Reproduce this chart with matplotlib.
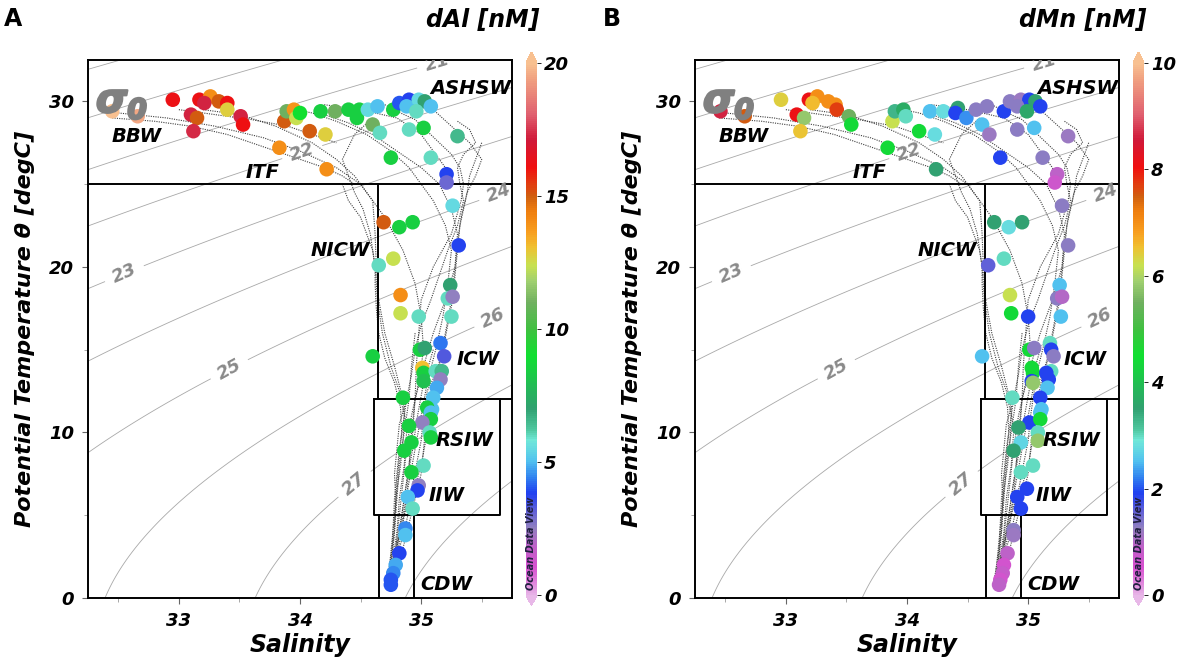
import numpy as np
import matplotlib
matplotlib.use('Agg')
import matplotlib.pyplot as plt
import matplotlib.patheffects as pe
from matplotlib.colors import LinearSegmentedColormap, Normalize

plt.rcParams['font.family'] = ['DejaVu Sans']
plt.rcParams['font.weight'] = 'bold'
plt.rcParams['font.style'] = 'italic'
plt.rcParams['axes.labelweight'] = 'bold'

# ---- bottle samples, panel A (dAl) ----
salA = [32.45, 32.66, 32.95, 33.10, 33.15, 33.12, 33.17, 33.26, 33.21, 33.33, 33.40, 33.40, 33.51, 33.53,
        33.87, 33.89, 33.95, 33.97, 34.00, 34.08, 34.21, 33.83, 34.22, 34.17, 34.29, 34.40, 34.49, 34.47,
        34.56, 34.64, 34.60, 34.66, 34.77, 34.82, 34.90, 34.88, 34.98, 35.03, 34.96, 35.08, 34.90, 35.02,
        35.30, 34.75, 35.08, 35.21, 35.21,
        35.26, 34.69, 34.82, 34.93, 35.31, 34.77, 34.65, 35.24, 35.22, 35.26, 34.83, 34.83, 34.98, 35.25,
        35.16, 35.19, 34.99, 35.03, 34.60, 35.01, 35.02, 35.12, 35.17, 35.02, 35.16, 35.13, 34.85, 35.10,
        35.09,
        35.05, 35.08, 35.08, 35.01, 34.90, 35.07, 35.08, 34.92, 34.86, 35.02, 34.92, 34.98, 34.97, 34.89,
        34.93, 34.87, 34.87, 34.82, 34.79, 34.77, 34.75, 34.75]
tempA = [29.4, 29.1, 30.1, 29.2, 29.0, 28.2, 30.1, 30.3, 29.9, 30.0, 29.9, 29.5, 29.1, 28.6,
         28.8, 29.4, 29.5, 29.0, 29.3, 28.2, 28.0, 27.2, 25.9, 29.4, 29.4, 29.5, 29.5, 29.0,
         29.5, 29.7, 28.6, 28.1, 29.5, 29.9, 30.1, 29.7, 30.1, 30.0, 29.4, 29.7, 28.3, 28.4,
         27.9, 26.6, 26.6, 25.6, 25.1,
         23.7, 22.7, 22.4, 22.7, 21.3, 20.5, 20.1, 18.9, 18.1, 18.2, 18.3, 17.2, 17.0, 17.0,
         15.4, 14.6, 15.0, 15.1, 14.6, 13.9, 13.6, 13.7, 13.7, 13.1, 13.2, 12.7, 12.1, 12.1,
         11.4,
         11.5, 11.2, 10.8, 10.6, 10.4, 10.0, 9.7, 9.4, 8.9, 8.0, 7.6, 6.8, 6.5, 6.1,
         5.4, 4.2, 3.8, 2.7, 2.0, 1.5, 1.1, 0.8]
dAl = [21.0, 19.5, 16.2, 17.2, 15.0, 17.3, 16.2, 14.0, 17.2, 15.0, 16.1, 12.8, 17.2, 16.1,
       15.0, 11.0, 13.9, 12.4, 9.0, 15.0, 12.8, 14.0, 14.0, 8.5, 11.0, 8.5, 8.5, 8.5,
       5.5, 5.0, 11.0, 6.0, 8.5, 4.0, 3.8, 5.0, 5.5, 7.0, 6.0, 5.0, 6.0, 8.5,
       6.5, 8.5, 6.0, 3.8, 3.0,
       5.5, 15.0, 8.5, 8.5, 3.8, 12.4, 6.0, 7.0, 6.0, 2.5, 14.0, 12.4, 6.0, 6.0,
       4.3, 3.3, 8.5, 7.0, 8.5, 13.1, 8.5, 6.0, 6.5, 8.0, 2.5, 4.8, 8.5, 5.0,
       5.0,
       8.5, 5.0, 8.5, 2.5, 8.5, 6.0, 8.5, 8.5, 8.5, 6.0, 8.5, 2.5, 3.8, 5.0,
       6.0, 4.5, 5.0, 3.8, 4.8, 4.5, 4.0, 4.0]

# ---- bottle samples, panel B (dMn) ----
salB = [32.46, 32.66, 32.96, 33.09, 33.15, 33.12, 33.19, 33.26, 33.22, 33.35, 33.41, 33.42, 33.52, 33.54,
        33.88, 33.90, 33.97, 33.99, 34.10, 34.23, 33.84, 34.24, 34.19, 34.30, 34.42, 34.40, 34.49, 34.57,
        34.66, 34.62, 34.68, 34.80, 34.85, 34.94, 35.01, 34.91, 35.06, 34.99, 35.10, 34.91, 35.05, 35.33,
        34.77, 35.12, 35.24, 35.22,
        35.28, 34.72, 34.84, 34.95, 35.33, 34.80, 34.67, 35.26, 35.24, 35.28, 34.85, 34.86, 35.00, 35.27,
        34.62, 35.18, 35.01, 35.05, 35.19, 35.21, 35.03, 35.04, 35.19, 35.15, 35.03, 35.04, 35.17, 35.16,
        34.87, 35.10, 35.11,
        35.10, 35.01, 35.10, 34.92, 35.08, 35.08, 34.94, 34.88, 35.04, 34.94, 34.99, 34.91, 34.94, 34.88,
        34.88, 34.83, 34.80, 34.79, 34.77, 34.76]
tempB = [29.4, 29.1, 30.1, 29.2, 29.0, 28.2, 30.1, 30.3, 29.9, 30.0, 29.8, 29.5, 29.1, 28.6,
         28.8, 29.4, 29.5, 29.1, 28.2, 28.0, 27.2, 25.9, 29.4, 29.4, 29.6, 29.3, 29.0, 29.5,
         29.7, 28.6, 28.0, 29.4, 30.0, 30.1, 30.1, 29.7, 30.0, 29.4, 29.7, 28.3, 28.4, 27.9,
         26.6, 26.6, 25.6, 25.1,
         23.7, 22.7, 22.4, 22.7, 21.3, 20.5, 20.1, 18.9, 18.1, 18.2, 18.3, 17.2, 17.0, 17.0,
         14.6, 15.4, 15.0, 15.1, 15.0, 14.6, 13.9, 13.6, 13.7, 13.6, 13.1, 13.0, 13.2, 12.7,
         12.1, 12.1, 11.4,
         11.2, 10.6, 10.8, 10.3, 10.0, 9.5, 9.4, 8.9, 8.0, 7.6, 6.6, 6.1, 5.4, 4.1,
         3.8, 2.7, 2.0, 1.5, 1.1, 0.8]
dMn = [8.6, 7.5, 6.4, 8.1, 5.8, 6.5, 8.1, 7.0, 6.6, 7.0, 7.0, 7.7, 5.5, 4.4,
       6.2, 3.3, 3.7, 3.0, 4.4, 2.8, 4.4, 3.5, 2.5, 2.8, 3.5, 1.9, 2.3, 1.3,
       1.3, 2.5, 1.2, 1.9, 1.3, 1.2, 1.9, 1.3, 3.5, 3.6, 1.9, 1.3, 2.5, 1.2,
       1.9, 1.3, 0.9, 0.7,
       1.3, 3.5, 2.8, 3.5, 1.3, 3.0, 1.6, 2.5, 1.3, 1.0, 6.2, 4.4, 1.9, 2.5,
       2.5, 3.0, 4.4, 1.3, 1.9, 1.3, 4.4, 4.4, 3.0, 1.9, 1.9, 5.8, 1.9, 2.5,
       3.0, 1.9, 2.5,
       2.5, 1.9, 4.4, 3.5, 3.0, 5.8, 2.7, 3.5, 3.0, 3.0, 1.9, 1.9, 1.9, 1.3,
       1.2, 0.9, 0.6, 0.8, 0.6, 0.9]

# ---- CTD casts (background T-S traces) ----
casts = [
    ([32.50, 32.90, 33.30, 33.70, 34.00, 34.30, 34.50, 34.60, 34.62, 34.63, 34.65, 34.70, 34.78, 34.85, 34.88, 34.86, 34.82, 34.80, 34.77, 34.74],
     [29.3, 29.0, 28.5, 27.8, 27.0, 26.0, 25.0, 24.0, 22.0, 20.0, 18.0, 16.0, 14.0, 12.0, 10.0, 8.0, 6.0, 4.0, 2.5, 1.5]),
    ([33.20, 33.50, 33.80, 34.10, 34.30, 34.45, 34.55, 34.70, 34.85, 34.95, 35.00, 35.02, 34.98, 34.92, 34.88, 34.85, 34.82, 34.79, 34.76, 34.73],
     [29.5, 29.2, 28.5, 27.5, 26.5, 25.5, 24.5, 23.0, 21.0, 19.0, 17.0, 15.0, 13.0, 11.0, 9.0, 7.0, 5.0, 3.0, 1.8, 1.2]),
    ([33.90, 34.10, 34.30, 34.55, 34.75, 34.90, 35.00, 35.10, 35.20, 35.25, 35.22, 35.18, 35.12, 35.05, 35.00, 34.95, 34.90, 34.85, 34.80, 34.76],
     [29.6, 29.3, 28.8, 28.0, 27.0, 26.0, 25.0, 24.0, 22.5, 21.0, 19.0, 17.0, 15.0, 13.0, 11.0, 9.0, 7.0, 5.0, 3.0, 2.0]),
    ([35.00, 35.10, 35.25, 35.40, 35.50, 35.45, 35.38, 35.33, 35.30, 35.28, 35.25, 35.20, 35.15, 35.10, 35.05, 35.00, 34.92, 34.86, 34.80, 34.75],
     [30.0, 29.5, 28.5, 27.5, 26.5, 25.5, 24.5, 23.0, 21.5, 20.0, 18.0, 16.0, 14.0, 12.0, 10.0, 8.0, 6.0, 4.0, 2.5, 1.5]),
    ([34.60, 34.45, 34.35, 34.40, 34.45, 34.52, 34.58, 34.62, 34.64, 34.68, 34.75, 34.82, 34.86, 34.85, 34.83, 34.80, 34.78, 34.76, 34.74, 34.72],
     [29.0, 28.0, 26.5, 25.5, 24.5, 23.5, 22.0, 20.0, 18.0, 16.0, 14.0, 12.5, 11.0, 9.5, 8.0, 6.5, 5.0, 3.5, 2.0, 1.0]),
    ([34.20, 34.40, 34.60, 34.80, 35.00, 35.15, 35.25, 35.30, 35.28, 35.20, 35.10, 35.02, 34.95, 34.92, 34.90, 34.86, 34.83, 34.80, 34.77, 34.74],
     [29.2, 28.7, 28.0, 27.0, 26.0, 25.0, 23.5, 22.0, 20.0, 18.0, 16.0, 14.0, 12.0, 10.0, 8.0, 6.0, 4.5, 3.0, 2.0, 1.2]),
    ([35.30, 35.40, 35.45, 35.35, 35.30, 35.32, 35.35, 35.30, 35.22, 35.15, 35.08, 35.00, 34.95, 34.92, 34.88, 34.85, 34.82, 34.80, 34.78, 34.77, 34.76, 34.74, 34.72],
     [28.8, 28.3, 27.5, 26.8, 26.0, 25.0, 24.0, 22.5, 21.0, 19.5, 18.0, 16.5, 15.0, 13.5, 12.0, 10.5, 9.0, 7.5, 6.0, 4.5, 3.0, 2.0, 1.0]),
    ([34.70, 34.80, 34.95, 35.05, 35.15, 35.25, 35.32, 35.35, 35.33, 35.25, 35.10, 35.00, 34.98, 34.96, 34.95, 34.93, 34.90, 34.88, 34.84, 34.78, 34.74],
     [29.8, 29.4, 28.9, 28.2, 27.5, 26.8, 26.0, 25.0, 24.0, 22.0, 20.0, 18.0, 16.0, 14.0, 12.0, 10.0, 8.0, 6.0, 4.0, 2.0, 0.8]),
    ([34.35, 34.40, 34.50, 34.55, 34.60, 34.62, 34.62, 34.63, 34.65, 34.70, 34.78, 34.83, 34.84, 34.82, 34.80, 34.79, 34.78, 34.76, 34.74],
     [25.0, 24.0, 23.0, 22.0, 21.0, 20.0, 19.0, 17.5, 16.0, 14.5, 13.0, 11.5, 10.0, 8.5, 7.0, 5.5, 4.0, 2.5, 1.5]),
    ([35.50, 35.45, 35.40, 35.38, 35.35, 35.32, 35.30, 35.28, 35.26, 35.22, 35.18, 35.12, 35.08, 35.04, 35.02, 35.00, 34.95, 34.90, 34.85, 34.78],
     [27.5, 26.5, 25.5, 24.5, 23.5, 22.5, 21.0, 19.5, 18.0, 16.5, 15.0, 13.5, 12.0, 10.5, 9.0, 7.5, 6.0, 4.5, 3.0, 1.5]),
    ([32.45, 32.80, 33.10, 33.40, 33.60, 33.80, 34.00, 34.20, 34.35, 34.45],
     [29.0, 28.8, 28.5, 28.0, 27.5, 27.0, 26.5, 26.0, 25.5, 25.0]),
    ([33.00, 33.30, 33.60, 33.90, 34.10, 34.30],
     [29.5, 29.2, 28.9, 28.5, 28.0, 27.5]),
    ([34.20, 34.50, 34.80, 35.00, 35.10, 35.20, 35.25],
     [29.8, 29.5, 29.0, 28.0, 27.0, 26.0, 25.0]),
    ([35.10, 35.02, 34.97, 34.93, 34.88, 34.84, 34.79, 34.75],
     [15.0, 13.0, 11.0, 9.0, 7.0, 5.0, 3.0, 1.5]),
    ([34.95, 34.92, 34.90, 34.86, 34.82, 34.80, 34.78, 34.75, 34.73],
     [16.0, 14.0, 12.0, 10.0, 8.0, 6.0, 4.0, 2.0, 1.0]),
    ([35.15, 35.05, 35.02, 35.00, 34.96, 34.92, 34.86, 34.81, 34.76],
     [14.0, 12.5, 11.0, 9.5, 8.0, 6.5, 5.0, 3.5, 2.0]),
    ([34.88, 34.82, 34.80, 34.78, 34.79, 34.78, 34.76, 34.74],
     [12.0, 10.5, 9.0, 7.5, 6.0, 4.5, 3.0, 1.5]),
]

# water-mass labels (salinity, temperature)
wm_names = ['BBW', 'ITF', 'ASHSW', 'NICW', 'ICW', 'RSIW', 'IIW', 'CDW']
wm_sal = [32.65, 33.69, 35.41, 34.33, 35.47, 35.36, 35.21, 35.21]
wm_temp = [27.9, 25.7, 30.8, 21.0, 14.4, 9.5, 6.2, 0.8]

sigma_plain_levels = [17, 18, 19, 20, 28]
sigma_lab_levels = [21, 22, 23, 24, 25, 26, 27]
sigma_lab_pos = [(35.15, 32.0), (34.02, 26.9), (32.55, 19.6), (35.64, 24.5), (33.41, 13.9), (35.61, 16.7), (34.46, 6.8)]

cmap = LinearSegmentedColormap.from_list('odv', [
    (0.000, '#e6b0e6'), (0.050, '#d850d0'), (0.088, '#c060c8'), (0.126, '#9080c0'),
    (0.157, '#6060d8'), (0.190, '#2040f0'), (0.220, '#3080f0'), (0.250, '#50c0f0'),
    (0.290, '#70e8d8'), (0.310, '#50c8a0'), (0.350, '#30a070'), (0.400, '#20c050'),
    (0.450, '#10e030'), (0.500, '#40c040'), (0.550, '#70b060'), (0.590, '#a0d070'),
    (0.620, '#c8e050'), (0.655, '#f0c030'), (0.680, '#f8a020'), (0.720, '#f08010'),
    (0.750, '#d06010'), (0.770, '#e04010'), (0.805, '#f01010'), (0.855, '#d01838'),
    (0.905, '#e06070'), (0.970, '#f0a080'), (1.000, '#f8c090')])
cmap.set_over('#f8c090')
cmap.set_under('#e8b8e8')


def sigma0(S, T):
    rw = (999.842594 + 6.793952e-2 * T - 9.095290e-3 * T**2 + 1.001685e-4 * T**3
          - 1.120083e-6 * T**4 + 6.536332e-9 * T**5)
    r = (rw + S * (0.824493 - 4.0899e-3 * T + 7.6438e-5 * T**2 - 8.2467e-7 * T**3 + 5.3875e-9 * T**4)
         + S**1.5 * (-5.72466e-3 + 1.0227e-4 * T - 1.6546e-6 * T**2) + 4.8314e-4 * S**2)
    return r - 1000


def panel(ax, cax, sal, temp, val, vmax, cticks, title, letter, letter_x):
    gs, gt = np.meshgrid(np.linspace(32.0, 36.0, 300), np.linspace(-1, 34, 300))
    sg = sigma0(gs, gt)
    ax.contour(gs, gt, sg, levels=sigma_plain_levels, colors='#a8a8a8', linewidths=0.6, zorder=1)
    cs = ax.contour(gs, gt, sg, levels=sigma_lab_levels, colors='#a8a8a8', linewidths=0.6, zorder=1)
    labs = ax.clabel(cs, manual=sigma_lab_pos, fmt='%d', fontsize=13,
                     colors='#8a8a8a', inline=True, inline_spacing=6)
    for t in labs:
        t.set_fontweight('bold')
        t.set_fontstyle('italic')

    for cs_s, cs_t in casts:
        ax.plot(cs_s, cs_t, color='#404040', lw=0.8, ls=(0, (1, 1.1)), zorder=2)

    # water-mass boxes
    ax.plot([32.25, 35.75], [25, 25], color='k', lw=1.4, zorder=2)
    ax.plot([34.64, 34.64, 35.75], [25, 12, 12], color='k', lw=1.4, zorder=2)
    ax.plot([34.61, 35.65, 35.65, 34.61, 34.61], [12, 12, 5, 5, 12], color='k', lw=1.4, zorder=2)
    ax.plot([34.65, 34.65], [5, 0], color='k', lw=1.4, zorder=2)
    ax.plot([34.94, 34.94], [5, 0], color='k', lw=1.4, zorder=2)

    sc = ax.scatter(sal, temp, c=val, cmap=cmap, norm=Normalize(0, vmax), s=110,
                    edgecolors='none', zorder=3)

    for name, s, t in zip(wm_names, wm_sal, wm_temp):
        ax.text(s, t, name, fontsize=14, ha='center', va='center', zorder=4)
    ax.text(32.53, 30.0, r'$\sigma_0$', fontsize=29, color='#808080', ha='center', va='center', zorder=4,
            path_effects=[pe.withStroke(linewidth=1.6, foreground='#808080')])

    ax.set_xlim(32.25, 35.75)
    ax.set_ylim(0, 32.5)
    ax.set_xticks([33, 34, 35])
    ax.set_xticks([32.5, 33.5, 34.5, 35.5], minor=True)
    ax.set_yticks([0, 10, 20, 30])
    ax.set_yticks([5, 15, 25], minor=True)
    ax.tick_params(labelsize=13, length=4, width=0.8, color='#666666', pad=6)
    ax.tick_params(which='minor', length=3, width=0.6, color='#999999')
    for sp in ax.spines.values():
        sp.set_linewidth(1.4)
    ax.set_xlabel('Salinity', fontsize=17, fontweight='bold', labelpad=2)
    ax.set_ylabel('Potential Temperature θ [degC]', fontsize=16, fontweight='bold', labelpad=10)

    cb = fig.colorbar(sc, cax=cax, extend='both', extendfrac=0.02)
    cb.set_ticks(cticks)
    cb.ax.tick_params(labelsize=13, length=3, width=0.6, pad=2)
    cb.outline.set_visible(False)
    cax.text(0.5, 0.01, 'Ocean Data View', rotation=90, ha='center', va='bottom', fontsize=7,
             color='#202040', transform=cax.transAxes)
    fig.text(cax.get_position().x1 + 0.002, 0.988, title, fontsize=17, ha='right', va='top')
    fig.text(letter_x, 0.99, letter, fontsize=17, fontstyle='normal', ha='left', va='top')


fig = plt.figure(figsize=(11.77, 6.65), dpi=100)
axA = fig.add_axes([88 / 1177, 67 / 665, 424 / 1177, 538 / 665])
axB = fig.add_axes([695 / 1177, 67 / 665, 424 / 1177, 538 / 665])
caxA = fig.add_axes([526 / 1177, 59 / 665, 11 / 1177, 554 / 665])
caxB = fig.add_axes([1133 / 1177, 59 / 665, 11 / 1177, 554 / 665])

panel(axA, caxA, salA, tempA, dAl, 20, [0, 5, 10, 15, 20], 'dAl [nM]', 'A', 0.003)
panel(axB, caxB, salB, tempB, dMn, 10, [0, 2, 4, 6, 8, 10], 'dMn [nM]', 'B', 0.512)

fig.savefig('out.png', dpi=100)
